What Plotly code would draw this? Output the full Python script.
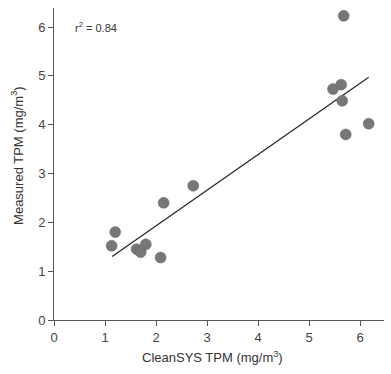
import plotly.graph_objects as go

cleansys_x = [1.13, 1.20, 1.62, 1.70, 1.80, 2.09, 2.15, 2.73, 5.47, 5.63, 5.65, 5.68, 5.72, 6.17]
measured_y = [1.52, 1.80, 1.45, 1.39, 1.55, 1.28, 2.40, 2.75, 4.73, 4.82, 4.49, 6.23, 3.80, 4.02]
fit_x = [1.14, 6.17]
fit_y = [1.30, 4.97]
r2_label = "r<sup>2</sup> = 0.84"
x_title = "CleanSYS TPM (mg/m<sup>3</sup>)"
y_title = "Measured TPM (mg/m<sup>3</sup>)"
tick_vals_x = [0, 1, 2, 3, 4, 5, 6]
tick_vals_y = [0, 1, 2, 3, 4, 5, 6]

FONT = "Liberation Sans, Arial"

fig = go.Figure()
fig.add_trace(go.Scatter(x=fit_x, y=fit_y, mode="lines",
                         line=dict(color="#222222", width=1.2), showlegend=False))
fig.add_trace(go.Scatter(x=cleansys_x, y=measured_y, mode="markers",
                         marker=dict(size=11, color="#777777",
                                     line=dict(color="#666666", width=0.5)),
                         showlegend=False))

fig.add_annotation(x=0.37, y=6.0, xref="x", yref="y", text=r2_label, showarrow=False,
                   xanchor="left", yanchor="middle",
                   font=dict(family=FONT, size=11, color="#333333"))
fig.add_annotation(x=0.479, y=-0.119, xref="paper", yref="paper", text=x_title,
                   showarrow=False, xanchor="center", yanchor="middle",
                   font=dict(family=FONT, size=13, color="#333333"))
fig.add_annotation(x=-0.112, y=0.526, xref="paper", yref="paper", text=y_title,
                   showarrow=False, xanchor="center", yanchor="middle", textangle=-90,
                   font=dict(family=FONT, size=13, color="#333333"))

axis_common = dict(showgrid=False, zeroline=False, showline=True, linecolor="#555555",
                   linewidth=1, ticks="outside", ticklen=5, tickcolor="#555555",
                   automargin=False,
                   tickfont=dict(family=FONT, size=13, color="#444444"))

fig.update_xaxes(range=[0, 6.47], tickvals=tick_vals_x, **axis_common)
fig.update_yaxes(range=[0, 6.39], tickvals=tick_vals_y, **axis_common)

fig.update_layout(width=391, height=374, margin=dict(l=54, r=7, t=8, b=54),
                  plot_bgcolor="white", paper_bgcolor="white")

fig.write_html("out.html", config={"displayModeBar": False},
               post_script="document.body.style.margin='0';document.body.style.padding='0';")
